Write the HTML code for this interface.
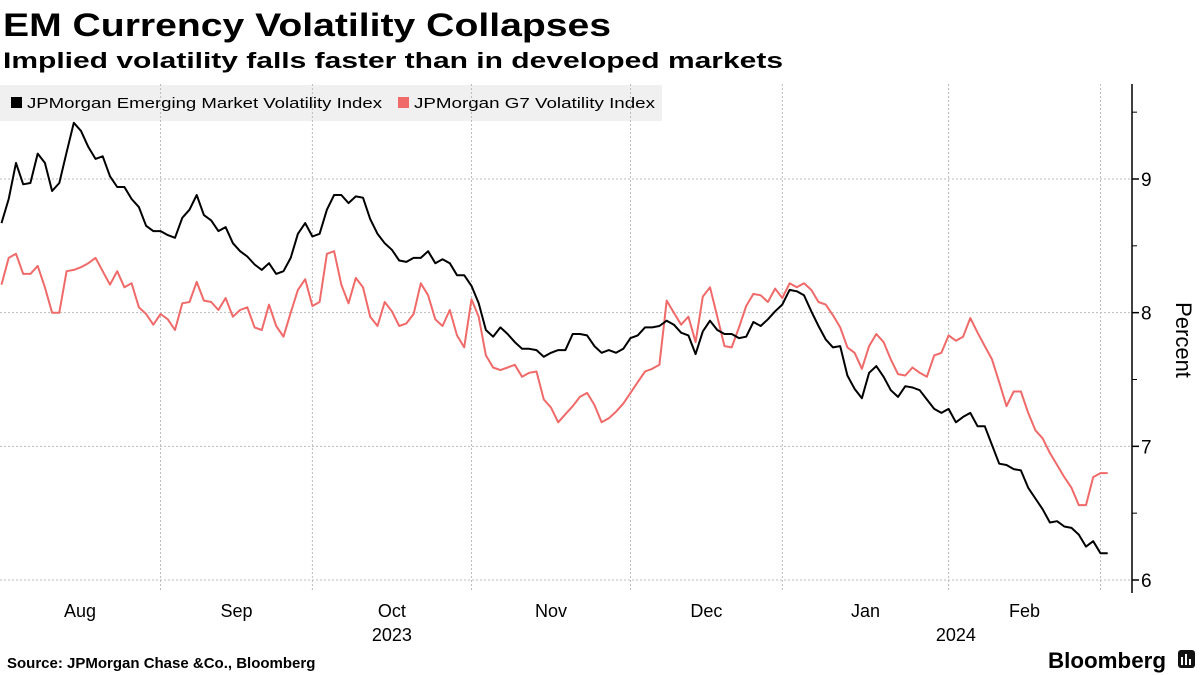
<!DOCTYPE html>
<html><head><meta charset="utf-8"><style>
html,body{margin:0;padding:0;background:#fff;}
svg{display:block;font-family:"Liberation Sans","DejaVu Sans",sans-serif;}
</style></head><body>
<svg id="chart" width="1200" height="675" viewBox="0 0 1200 675">
<text x="3" y="36" font-size="32" font-weight="bold" textLength="608" lengthAdjust="spacingAndGlyphs">EM Currency Volatility Collapses</text>
<text x="3" y="68" font-size="22" font-weight="bold" textLength="780" lengthAdjust="spacingAndGlyphs">Implied volatility falls faster than in developed markets</text>
<g>
<rect x="0" y="85" width="662" height="36" fill="#f0f0f0"/>
<g>
<rect x="11" y="97" width="11" height="11" fill="#000"/>
<text x="27" y="108" font-size="15" textLength="355" lengthAdjust="spacingAndGlyphs">JPMorgan Emerging Market Volatility Index</text></g>
<g>
<rect x="398" y="97" width="11" height="11" fill="#f06a6a"/>
<text x="414" y="108" font-size="15" textLength="241" lengthAdjust="spacingAndGlyphs">JPMorgan G7 Volatility Index</text></g>
</g>
<g id="grid"></g><g id="axis"></g><g id="series"></g>
<text transform="translate(1176,340) rotate(90)" font-size="22" text-anchor="middle">Percent</text>
<text x="7" y="668" font-size="15" font-weight="bold">Source: JPMorgan Chase &amp;Co., Bloomberg</text>
<text x="1166" y="668" font-size="22" font-weight="bold" text-anchor="end" textLength="118" lengthAdjust="spacingAndGlyphs">Bloomberg</text>
<g><rect x="1178" y="650" width="17" height="18" rx="3" fill="#111"/><rect x="1181" y="657" width="2" height="8" fill="#fff"/><rect x="1185" y="654" width="2" height="11" fill="#fff"/><rect x="1189" y="659" width="2" height="6" fill="#fff"/></g>
</svg>
<script>
const emValues=[8.67,8.85,9.12,8.96,8.97,9.19,9.12,8.91,8.97,9.20,9.42,9.36,9.24,9.15,9.17,9.02,8.94,8.94,8.85,8.79,8.65,8.61,8.61,8.58,8.56,8.71,8.77,8.88,8.73,8.69,8.61,8.64,8.52,8.46,8.42,8.36,8.32,8.37,8.29,8.31,8.41,
8.59,8.67,8.57,8.59,8.77,8.88,8.88,8.82,8.87,8.86,8.70,8.59,8.52,8.47,8.39,8.38,8.41,8.41,8.46,8.37,8.40,8.37,8.28,8.28,8.20,8.07,7.87,7.82,7.89,7.84,7.78,7.73,7.73,7.72,7.67,7.70,7.72,7.72,
7.84,7.84,7.83,7.75,7.70,7.72,7.70,7.73,7.81,7.83,7.89,7.89,7.90,7.94,7.91,7.85,7.83,7.69,7.86,7.94,7.87,7.84,7.84,7.81,7.82,7.93,7.90,7.95,8.01,8.06,8.17,8.16,8.13,8.01,7.90,7.80,7.74,7.75,7.53,
7.43,7.36,7.55,7.60,7.52,7.42,7.37,7.45,7.44,7.42,7.35,7.28,7.25,7.28,7.18,7.22,7.25,7.15,7.15,7.01,6.87,6.86,6.83,6.82,6.69,6.61,6.53,6.43,6.44,6.40,6.39,6.34,6.25,6.29,6.20,6.20];
const g7Values=[8.21,8.41,8.44,8.29,8.29,8.35,8.19,8.00,8.00,8.31,8.32,8.34,8.37,8.41,8.31,8.21,8.31,8.19,8.22,8.04,7.99,7.91,7.99,7.95,7.87,8.07,8.08,8.23,8.09,8.08,8.02,8.11,7.97,8.02,8.04,7.89,7.87,8.06,7.90,7.82,8.00,
8.17,8.25,8.05,8.08,8.44,8.46,8.21,8.07,8.26,8.19,7.97,7.90,8.08,8.01,7.90,7.92,7.99,8.22,8.13,7.95,7.90,8.02,7.83,7.74,8.10,7.97,7.68,7.59,7.57,7.59,7.61,7.52,7.55,7.56,7.35,7.29,7.18,7.24,7.30,
7.37,7.40,7.31,7.18,7.21,7.26,7.32,7.40,7.48,7.56,7.58,7.61,8.09,8.00,7.91,7.97,7.78,8.12,8.19,7.97,7.75,7.74,7.89,8.05,8.14,8.13,8.08,8.18,8.11,8.22,8.19,8.22,8.17,8.08,8.06,7.98,7.89,7.74,
7.70,7.58,7.75,7.84,7.78,7.65,7.54,7.53,7.59,7.55,7.52,7.68,7.70,7.83,7.79,7.82,7.96,7.85,7.75,7.65,7.48,7.30,7.41,7.41,7.25,7.12,7.06,6.95,6.86,6.77,6.69,6.56,6.56,6.77,6.80,6.80];
const yTicks=[6,7,8,9];
const yMinorTicks=[6.5,7.5,8.5,9.5];
const monthLabels=["Aug","Sep","Oct","Nov","Dec","Jan","Feb"];
const monthStartIdx=[-1,22,43,65,87,108,131,152];
const yearLabels=["2023","2024"];
const yearIdx=[54,132];

const NS="http://www.w3.org/2000/svg";
const X=i=>1.5+i*7.23;
const Y=v=>580-(v-6)*133.67;
function mk(tag,attrs,parent){const e=document.createElementNS(NS,tag);for(const k in attrs)e.setAttribute(k,attrs[k]);parent.appendChild(e);return e;}
const grid=document.getElementById('grid'),axis=document.getElementById('axis'),series=document.getElementById('series');
yTicks.forEach(t=>{
  const l=mk('line',{x1:0,x2:1132,y1:Y(t),y2:Y(t),stroke:'#bbb','stroke-width':1,'stroke-dasharray':'2,2'},grid);
  
  
  const tk=mk('line',{x1:1132,x2:1139,y1:Y(t),y2:Y(t),stroke:'#000','stroke-width':1.5},axis);
  
  
  const tx=mk('text',{x:1141,y:Y(t)+7,'font-size':19},axis);tx.textContent=t;
  
  
});
yMinorTicks.forEach(t=>{
  const tk=mk('line',{x1:1132,x2:1137,y1:Y(t),y2:Y(t),stroke:'#000','stroke-width':1},axis);
  
  
});
monthStartIdx.forEach((s,k)=>{
  if(s>=0){const l=mk('line',{x1:X(s),x2:X(s),y1:84,y2:592,stroke:'#bbb','stroke-width':1,'stroke-dasharray':'2,2'},grid);
  
  }
  if(k<monthLabels.length){const mid=(X(Math.max(s,0))+X(monthStartIdx[k+1]))/2;
  const t=mk('text',{x:k===0?80:mid,y:617,'font-size':18,'text-anchor':'middle'},axis);t.textContent=monthLabels[k];
  
  }
});
yearLabels.forEach((y,k)=>{
  const t=mk('text',{x:X(yearIdx[k]),y:641,'font-size':18,'text-anchor':'middle'},axis);t.textContent=y;
  
  
});
const ax=mk('line',{x1:1132,x2:1132,y1:84,y2:593,stroke:'#000','stroke-width':1.5},axis);


function line(vals,color,name){
  const d=vals.map((v,i)=>(i?'L':'M')+X(i).toFixed(1)+','+Y(v).toFixed(1)).join('');
  const p=mk('path',{d:d,fill:'none',stroke:color,'stroke-width':2,'stroke-linejoin':'round'},series);
  
  
}
line(g7Values,'#f06a6a','g7-volatility-line');
line(emValues,'#000','em-volatility-line');
</script>
</body></html>
